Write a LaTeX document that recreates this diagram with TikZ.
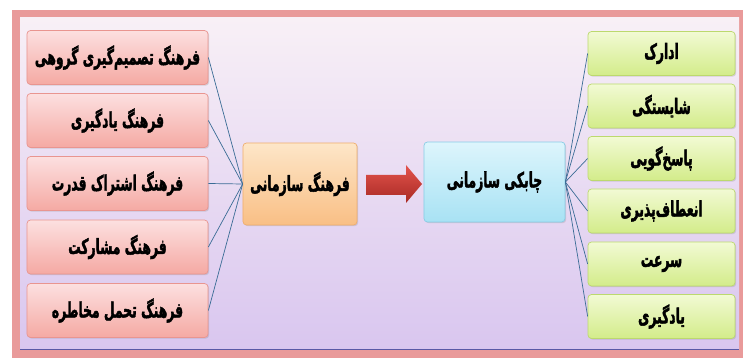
\documentclass[tikz,border=0pt]{standalone}
\usepackage{fontspec}
\newfontfamily\farsi[Script=Arabic, BoldFeatures={FakeBold=2.5}]{DejaVu Sans}
\TeXXeTstate=1
\usetikzlibrary{shadows}

\definecolor{framered}{HTML}{E99A9A}
\definecolor{bgtop}{HTML}{F8F0F6}
\definecolor{bgbot}{HTML}{D9C6EF}
\definecolor{pinktop}{HTML}{FCE0E0}
\definecolor{pinkbot}{HTML}{F5A9A3}
\definecolor{pinkedge}{HTML}{E99590}
\definecolor{orangetop}{HTML}{FDE6C8}
\definecolor{orangebot}{HTML}{F9BF85}
\definecolor{orangeedge}{HTML}{F0AE6E}
\definecolor{bluetop}{HTML}{DDF5FC}
\definecolor{bluebot}{HTML}{A8E2F4}
\definecolor{blueedge}{HTML}{88CDE6}
\definecolor{greentop}{HTML}{F2FAD4}
\definecolor{greenbot}{HTML}{D3EC8A}
\definecolor{greenedge}{HTML}{BCD96E}
\definecolor{arrowtop}{HTML}{E3534C}
\definecolor{arrowbot}{HTML}{A82A24}
\definecolor{linkblue}{HTML}{3A6C95}

\newcommand{\fa}[1]{\scalebox{0.62}[1.05]{\farsi\bfseries\beginR #1\endR}}

\tikzset{
  box/.style={rounded corners=3pt, line width=0.6pt, align=center,
    font=\fontsize{17}{19}\selectfont, inner sep=2pt,
    drop shadow={opacity=0.25, shadow xshift=1pt, shadow yshift=-1pt}},
  causebox/.style={box, draw=pinkedge, top color=pinktop, bottom color=pinkbot,
    minimum width=5.43cm, minimum height=1.62cm},
  culturebox/.style={box, draw=orangeedge, top color=orangetop, bottom color=orangebot,
    minimum width=3.42cm, minimum height=2.46cm},
  agilebox/.style={box, draw=blueedge, top color=bluetop, bottom color=bluebot,
    minimum width=4.23cm, minimum height=2.40cm},
  effectbox/.style={box, draw=greenedge, top color=greentop, bottom color=greenbot,
    minimum width=4.41cm, minimum height=1.32cm},
  link/.style={draw=linkblue, line width=0.6pt}
}

\begin{document}
\begin{tikzpicture}[x=0.03cm, y=0.03cm]
        \useasboundingbox (0,0) rectangle (743,358);

        % Frame and background
        \fill[framered] (12,0) rectangle (743,348);
        \shade[top color=bgtop, bottom color=bgbot] (20,8) rectangle (739,340);
        \draw[gray!70!blue, line width=1.5pt] (20,8.5) -- (739,8.5);

        % Middle
        \node[culturebox] (culture) at (300,174) {\fa{فرهنگ سازمانی}};
        \node[agilebox] (agile) at (494.5,176) {\fa{چابکی سازمانی}};

        % Big arrow between the two
        \shade[top color=arrowtop, bottom color=arrowbot]
            (366,183) -- (406,183) -- (406,193) -- (422,174) -- (406,155)
            -- (406,163) -- (366,163) -- cycle;

        % Left column
        \foreach \i/\y/\txt in {1/300.5/فرهنگ تصمیم‌گیری گروهی, 2/237.5/فرهنگ یادگیری,
                                3/174.5/فرهنگ اشتراک قدرت, 4/111/فرهنگ مشارکت,
                                5/47.5/فرهنگ تحمل مخاطره}
        {
            \node[causebox] (c\i) at (117.5,\y) {\fa{\txt}};
            \draw[link] (c\i.east) -- (culture.west);
        }

        % Right column
        \foreach \i/\y/\txt in {1/304.5/ادارک, 2/252/شایستگی, 3/199.5/پاسخ‌گویی,
                                4/147/انعطاف‌پذیری, 5/94/سرعت, 6/41.5/یادگیری}
        {
            \node[effectbox] (e\i) at (661.5,\y) {\fa{\txt}};
            \draw[link] (agile.east) -- (e\i.west);
        }
    \end{tikzpicture}
\end{document}
